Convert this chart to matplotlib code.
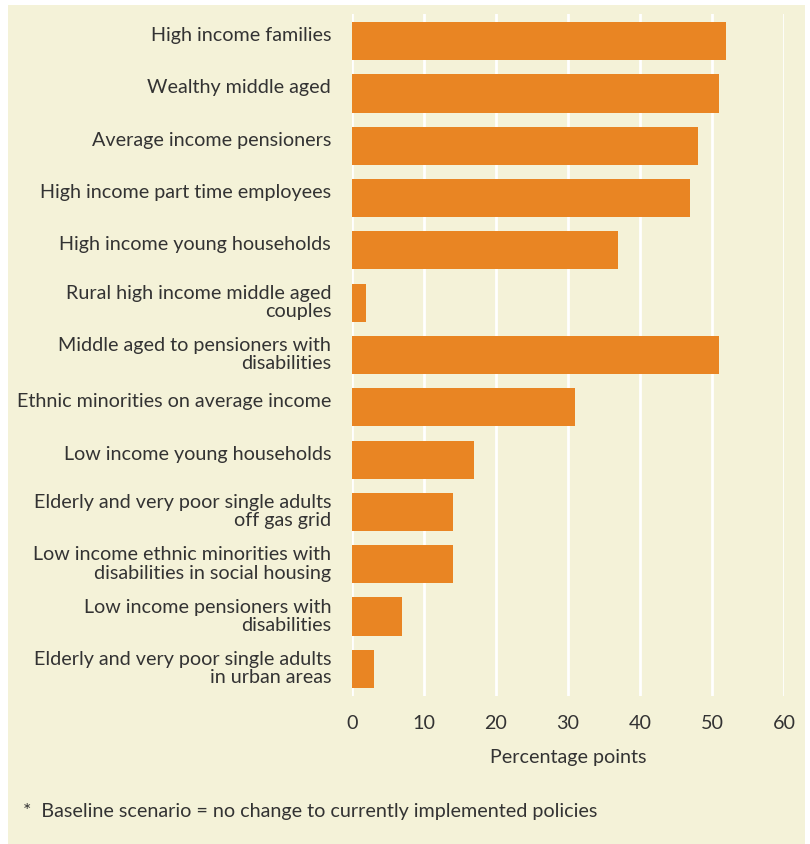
import matplotlib.pyplot as plt
from matplotlib.patches import Rectangle
from matplotlib.transforms import ScaledTranslation

categories = [
    "High income families",
    "Wealthy middle aged",
    "Average income pensioners",
    "High income part time employees",
    "High income young households",
    "Rural high income middle aged\ncouples",
    "Middle aged to pensioners with\ndisabilities",
    "Ethnic minorities on average income",
    "Low income young households",
    "Elderly and very poor single adults\noff gas grid",
    "Low income ethnic minorities with\ndisabilities in social housing",
    "Low income pensioners with\ndisabilities",
    "Elderly and very poor single adults\nin urban areas",
]
values = [52, 51, 48, 47, 37, 2, 51, 31, 17, 14, 14, 7, 3]
xticks = [0, 10, 20, 30, 40, 50, 60]

BG = "#F4F2D8"
BAR = "#E98523"
TEXT = "#333333"
FS = 14.2

plt.rcParams["font.family"] = ["Lato", "DejaVu Sans"]

W, H = 810, 844
fig = plt.figure(figsize=(W / 100, H / 100), dpi=100)
fig.patch.set_facecolor("white")
fig.patches.append(Rectangle((8 / W, 0), (805 - 8) / W, (H - 5) / H,
                             transform=fig.transFigure, facecolor=BG,
                             edgecolor="none", zorder=-10))

ax = fig.add_axes([352 / W, 1 - 696 / H, (784 - 352) / W, (696 - 14) / H])
ax.set_facecolor("none")
ax.set_zorder(1)

y = list(range(len(categories)))
ax.barh(y, values, height=0.73, color=BAR, zorder=2)

ax.set_xlim(0, 60)
ax.set_ylim(len(categories) - 0.48, -0.52)
ax.set_xticks(xticks)
ax.set_xticklabels([str(t) for t in xticks])
ax.set_yticks(y)
ax.set_yticklabels(categories, ha="right", multialignment="right")
ax.tick_params(axis="both", length=0, colors=TEXT, labelsize=FS)
ax.tick_params(axis="y", pad=15)
ax.tick_params(axis="x", pad=14)
# labels sit a little above the bar centre in the original
for lab in ax.get_yticklabels():
    lab.set_linespacing(1.1)
    shift = 2.5 if "\n" in lab.get_text() else 7
    lab.set_transform(lab.get_transform() + ScaledTranslation(0, shift / 100, fig.dpi_scale_trans))

ax.grid(axis="x", color="white", linewidth=2, zorder=1)
ax.set_axisbelow(True)
for s in ax.spines.values():
    s.set_visible(False)

ax.set_xlabel("Percentage points", fontsize=FS, color=TEXT, labelpad=12)

fig.text(23 / W, 1 - 812 / H, "*  Baseline scenario = no change to currently implemented policies",
         fontsize=FS, color=TEXT, va="center", ha="left")

fig.savefig("out.png", dpi=100, facecolor=fig.get_facecolor())
